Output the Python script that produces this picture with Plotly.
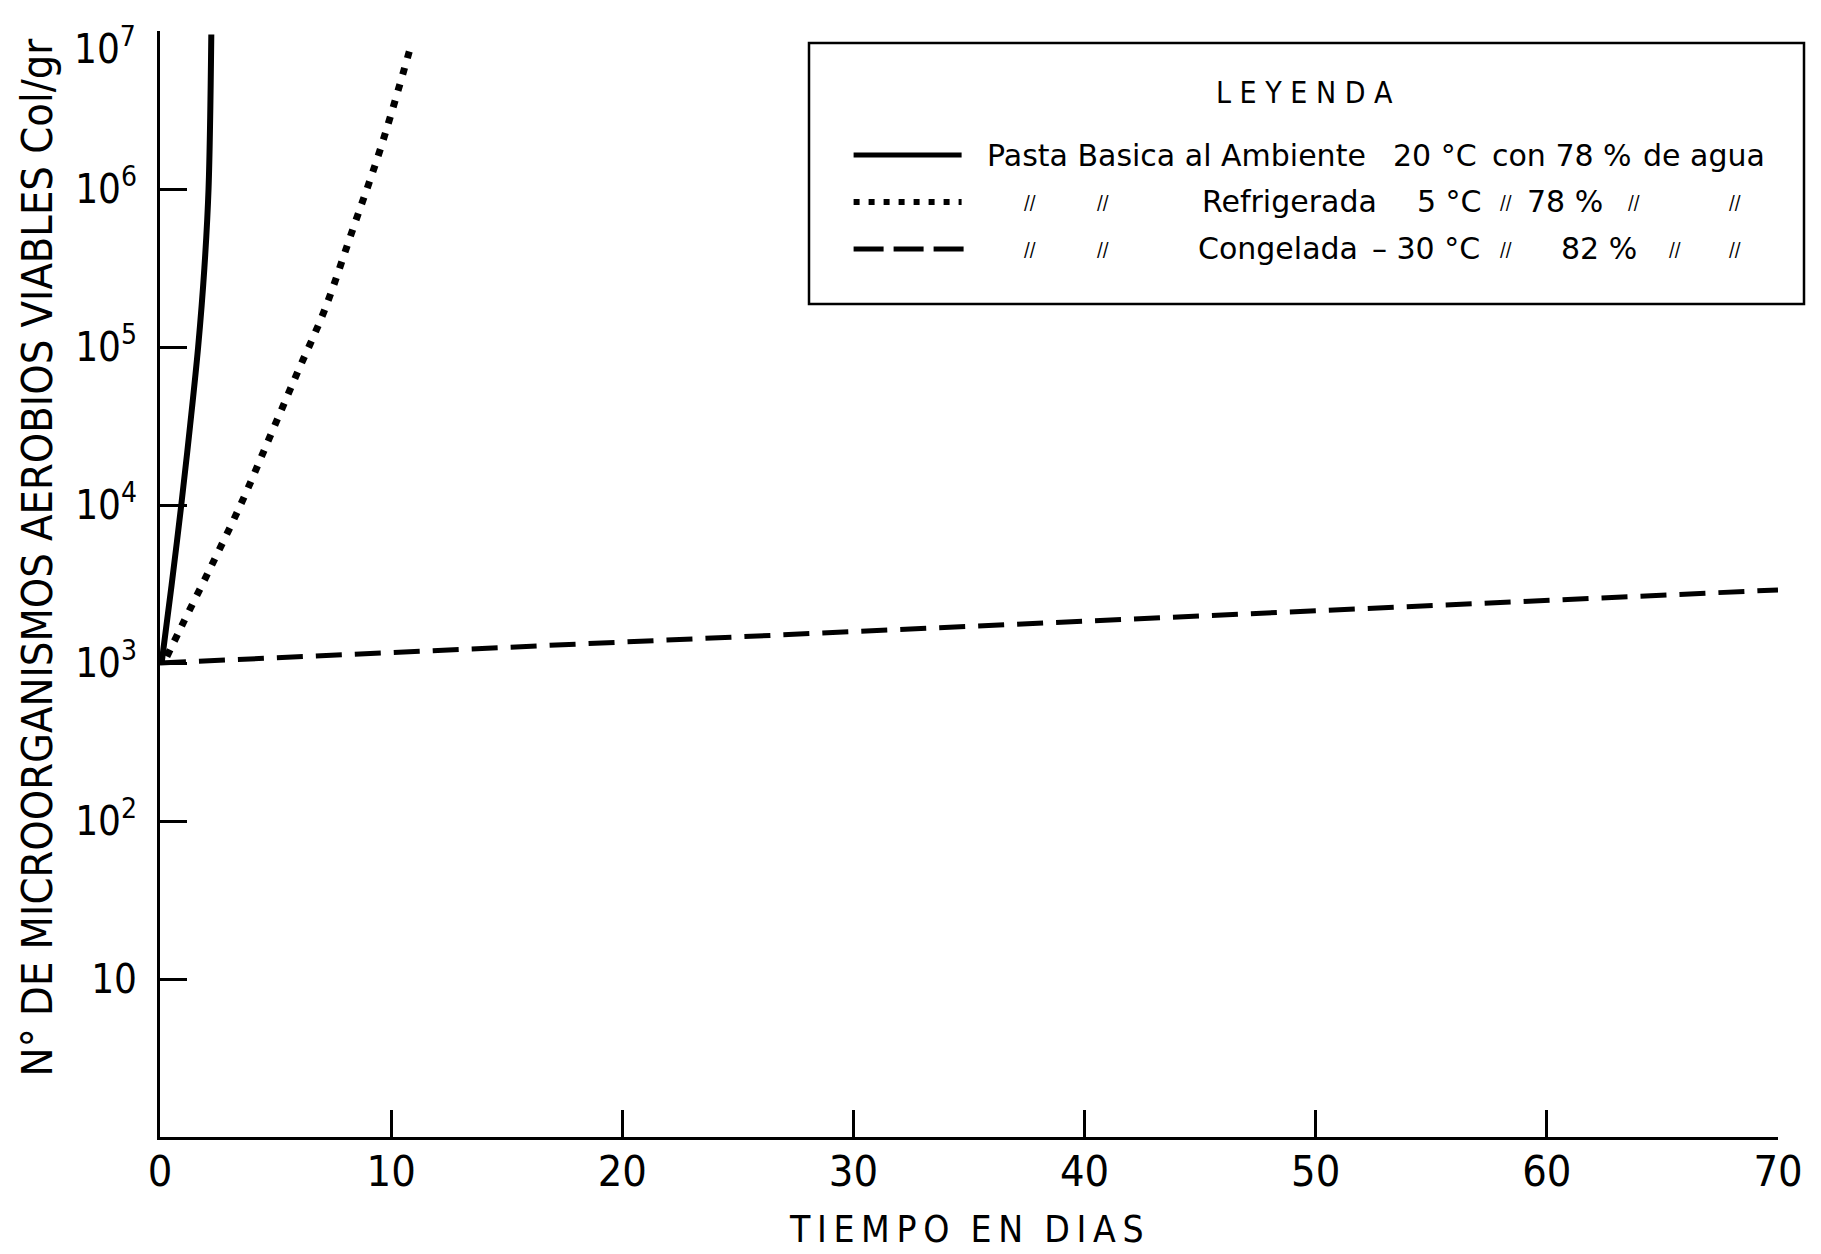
import plotly.graph_objects as go

# ---- data ----
amb_dias = [0.07, 0.5, 0.92, 1.3, 1.65, 1.92, 2.1, 2.22]
amb_ufc = [1000, 3100, 10000, 31600, 100000, 316000, 1000000, 9500000]

ref_dias = [0.3, 0.89, 2.14, 3.51, 4.72, 5.92, 7.11, 8.33, 9.55, 10.9]
ref_ufc = [1100, 1660, 3890, 10200, 26300, 67600, 170000, 550000, 1820000, 8500000]

cong_dias = [0, 10, 20, 30, 40, 50, 60, 70]
cong_ufc = [1000, 1160, 1350, 1580, 1840, 2140, 2490, 2900]

x_ticks = [0, 10, 20, 30, 40, 50, 60, 70]
y_ticks = [10, 100, 1000, 10000, 100000, 1000000, 10000000]
y_ticktext = ["10", "10<sup>2</sup>", "10<sup>3</sup>", "10<sup>4</sup>",
              "10<sup>5</sup>", "10<sup>6</sup>", "10<sup>7</sup>"]

FONT = "DejaVu Sans Condensed, Liberation Sans Narrow, sans-serif"
LFONT = "DejaVu Sans, sans-serif"
OFF = 8  # default body margin of the page
W, H = 1821 - OFF, 1254 - OFF
# plot area in window pixels
WL, WR, WT, WB = 160, 1778, 31, 1137
L, R, T, B = WL - OFF, WR - OFF, WT - OFF, WB - OFF


def px(x):
    return (x - WL) / (WR - WL)


def py(y):
    return (WB - y) / (WB - WT)


def s(v):
    # shrunk-reference pixel -> full pixel
    return v * 1821 / 1568


fig = go.Figure()
fig.add_trace(go.Scatter(x=amb_dias, y=amb_ufc, mode="lines",
                         line=dict(color="black", width=6, shape="spline"),
                         showlegend=False))
fig.add_trace(go.Scatter(x=ref_dias, y=ref_ufc, mode="lines",
                         line=dict(color="black", width=7, dash="7px,10px", shape="spline"),
                         showlegend=False))
fig.add_trace(go.Scatter(x=cong_dias, y=cong_ufc, mode="lines",
                         line=dict(color="black", width=5, dash="26px,13px"),
                         showlegend=False))

shapes = []
annots = []

# legend box
shapes.append(dict(type="rect", xref="paper", yref="paper",
                   x0=px(809), x1=px(1804), y0=py(304), y1=py(43),
                   line=dict(color="black", width=2.5)))
annots.append(dict(text="L E Y E N D A", x=px(s(1123)), y=py(93), xref="paper", yref="paper",
                   showarrow=False, font=dict(size=30, family=FONT, color="black"),
                   xanchor="center", yanchor="middle"))
rows_y = [155, 202, 249]
shapes.append(dict(type="line", xref="paper", yref="paper", x0=px(s(735)), x1=px(s(828)),
                   y0=py(rows_y[0]), y1=py(rows_y[0]), line=dict(color="black", width=5)))
shapes.append(dict(type="line", xref="paper", yref="paper", x0=px(s(735)), x1=px(s(828)),
                   y0=py(rows_y[1]), y1=py(rows_y[1]),
                   line=dict(color="black", width=6, dash="6px,9px")))
shapes.append(dict(type="line", xref="paper", yref="paper", x0=px(s(735)), x1=px(s(833)),
                   y0=py(rows_y[2]), y1=py(rows_y[2]),
                   line=dict(color="black", width=5, dash="30px,10px")))

D = "//"
row_items = [
    [(848, "Pasta Basica al Ambiente"), (1198, "20 °C"), (1283, "con 78 %"), (1413, "de agua")],
    [(880, D), (943, D), (1033, "Refrigerada"), (1218, "5 °C"), (1290, D), (1313, "78 %"),
     (1400, D), (1487, D)],
    [(880, D), (943, D), (1030, "Congelada"), (1180, "– 30 °C"), (1290, D), (1342, "82 %"),
     (1435, D), (1487, D)],
]
for ry, items in zip(rows_y, row_items):
    for xx, tx in items:
        if tx == D:
            fnt = dict(size=19, family=FONT, color="black")
        else:
            fnt = dict(size=30, family=LFONT, color="black")
        annots.append(dict(text=tx, x=px(s(xx)), y=py(ry), xref="paper", yref="paper",
                           showarrow=False, font=fnt,
                           xanchor="left", yanchor="middle"))

# top tick label sits a little below its tick (as in the original); drawn as annotation
annots.append(dict(text=y_ticktext[-1], x=px(138), y=py(46), xref="paper", yref="paper",
                   showarrow=False, font=dict(size=40, family=FONT, color="black"),
                   xanchor="right", yanchor="middle"))
axis_ticktext = y_ticktext[:-1] + [""]

# axis titles
annots.append(dict(text="N° DE MICROORGANISMOS AEROBIOS VIABLES Col/gr",
                   x=px(37), y=py(s(480)), xref="paper", yref="paper", textangle=-90,
                   showarrow=False, font=dict(size=43, family=FONT, color="black"),
                   xanchor="center", yanchor="middle"))
annots.append(dict(text="T\u2009I\u2009E\u2009M\u2009P\u2009O  E\u2009N  D\u2009I\u2009A\u2009S",
                   x=px(s(832)), y=py(1229), xref="paper", yref="paper",
                   showarrow=False, font=dict(size=37, family=FONT, color="black"),
                   xanchor="center", yanchor="middle"))

fig.update_layout(
    width=W, height=H,
    margin=dict(l=L, r=W - R, t=T, b=H - B),
    paper_bgcolor="white", plot_bgcolor="white",
    shapes=shapes, annotations=annots,
    showlegend=False,
)
fig.update_xaxes(range=[0, 70], tickvals=x_ticks, ticktext=[str(v) for v in x_ticks],
                 ticks="inside", ticklen=27, tickwidth=2.5, tickcolor="black",
                 showline=True, linecolor="black", linewidth=3, showgrid=False, zeroline=False,
                 tickfont=dict(size=43, family=FONT, color="black"), ticklabelstandoff=-6,
                 ticklabeloverflow="allow", automargin=False)
fig.update_yaxes(type="log", range=[0, 7], tickvals=y_ticks, ticktext=axis_ticktext,
                 ticks="inside", ticklen=27, tickwidth=2.5, tickcolor="black",
                 showline=True, linecolor="black", linewidth=3, showgrid=False, zeroline=False,
                 tickfont=dict(size=40, family=FONT, color="black"), ticklabelstandoff=12,
                 ticklabeloverflow="allow", automargin=False)

fig.write_html("out.html")
